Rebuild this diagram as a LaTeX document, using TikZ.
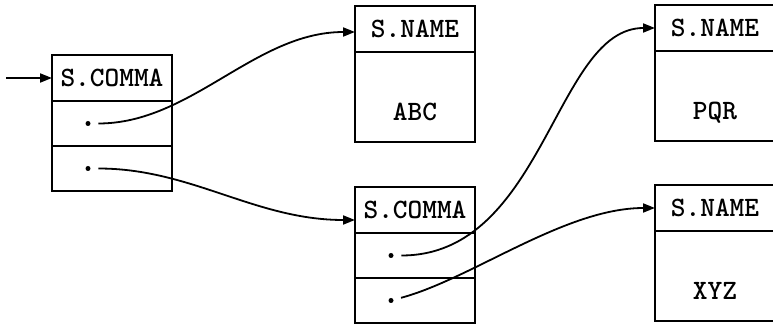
\documentclass[tikz,border=0pt]{standalone}
\usepackage{fontspec}
\usetikzlibrary{arrows.meta,positioning}

\begin{document}
\begin{tikzpicture}[->,>={Triangle[length=6pt,width=4.5pt]},x=0.5pt,y=-0.5pt,
  line width=0.9pt,
  hdr node/.style={draw,rectangle,minimum width=60pt,minimum height=23pt,
    inner sep=0pt,outer sep=0pt,font=\ttfamily\bfseries\fontsize{14}{16}\selectfont},
  fld node/.style={hdr node,minimum height=22.5pt},
  val node/.style={hdr node,minimum height=45pt,text height=24pt,text depth=0pt},
  dot node/.style={circle,fill,inner sep=0pt,minimum size=2.5pt}]

  \useasboundingbox (0,0) rectangle (773,326);

  \node[hdr node,anchor=north west] (c1) at (52,55) {S.COMMA};
  \node[fld node,below=0pt of c1] (c1a) {};
  \node[fld node,below=0pt of c1a] (c1b) {};

  \node[hdr node,anchor=north west] (n1) at (355,6) {S.NAME};
  \node[val node,below=0pt of n1] (n1v) {ABC};

  \node[hdr node,anchor=north west] (c2) at (355,187) {S.COMMA};
  \node[fld node,below=0pt of c2] (c2a) {};
  \node[fld node,below=0pt of c2a] (c2b) {};

  \node[hdr node,anchor=north west] (n2) at (655,5) {S.NAME};
  \node[val node,below=0pt of n2] (n2v) {PQR};

  \node[hdr node,anchor=north west] (n3) at (655,185) {S.NAME};
  \node[val node,below=0pt of n3] (n3v) {XYZ};

  \node[dot node] (d1) at ([xshift=-12pt]c1a.center) {};
  \node[dot node] (d2) at ([xshift=-12pt]c1b.center) {};
  \node[dot node] (d3) at ([xshift=-12pt]c2a.center) {};
  \node[dot node] (d4) at ([xshift=-12pt]c2b.center) {};

  \coordinate (start) at (6,78);

  \path[shorten <=3.5pt]
    (d1) edge[out=0,in=180,distance=50pt] ([yshift=-1.5pt]n1.west)
    (d2) edge[out=0,in=180,distance=50pt] ([yshift=-5pt]c2.west)
    (d3) edge[out=0,in=180,out distance=75pt,in distance=50pt] (n2)
    (d4) edge[out=15,in=180,out distance=40pt,in distance=45pt] (n3);
  \draw (start) -- (c1);
\end{tikzpicture}
\end{document}
